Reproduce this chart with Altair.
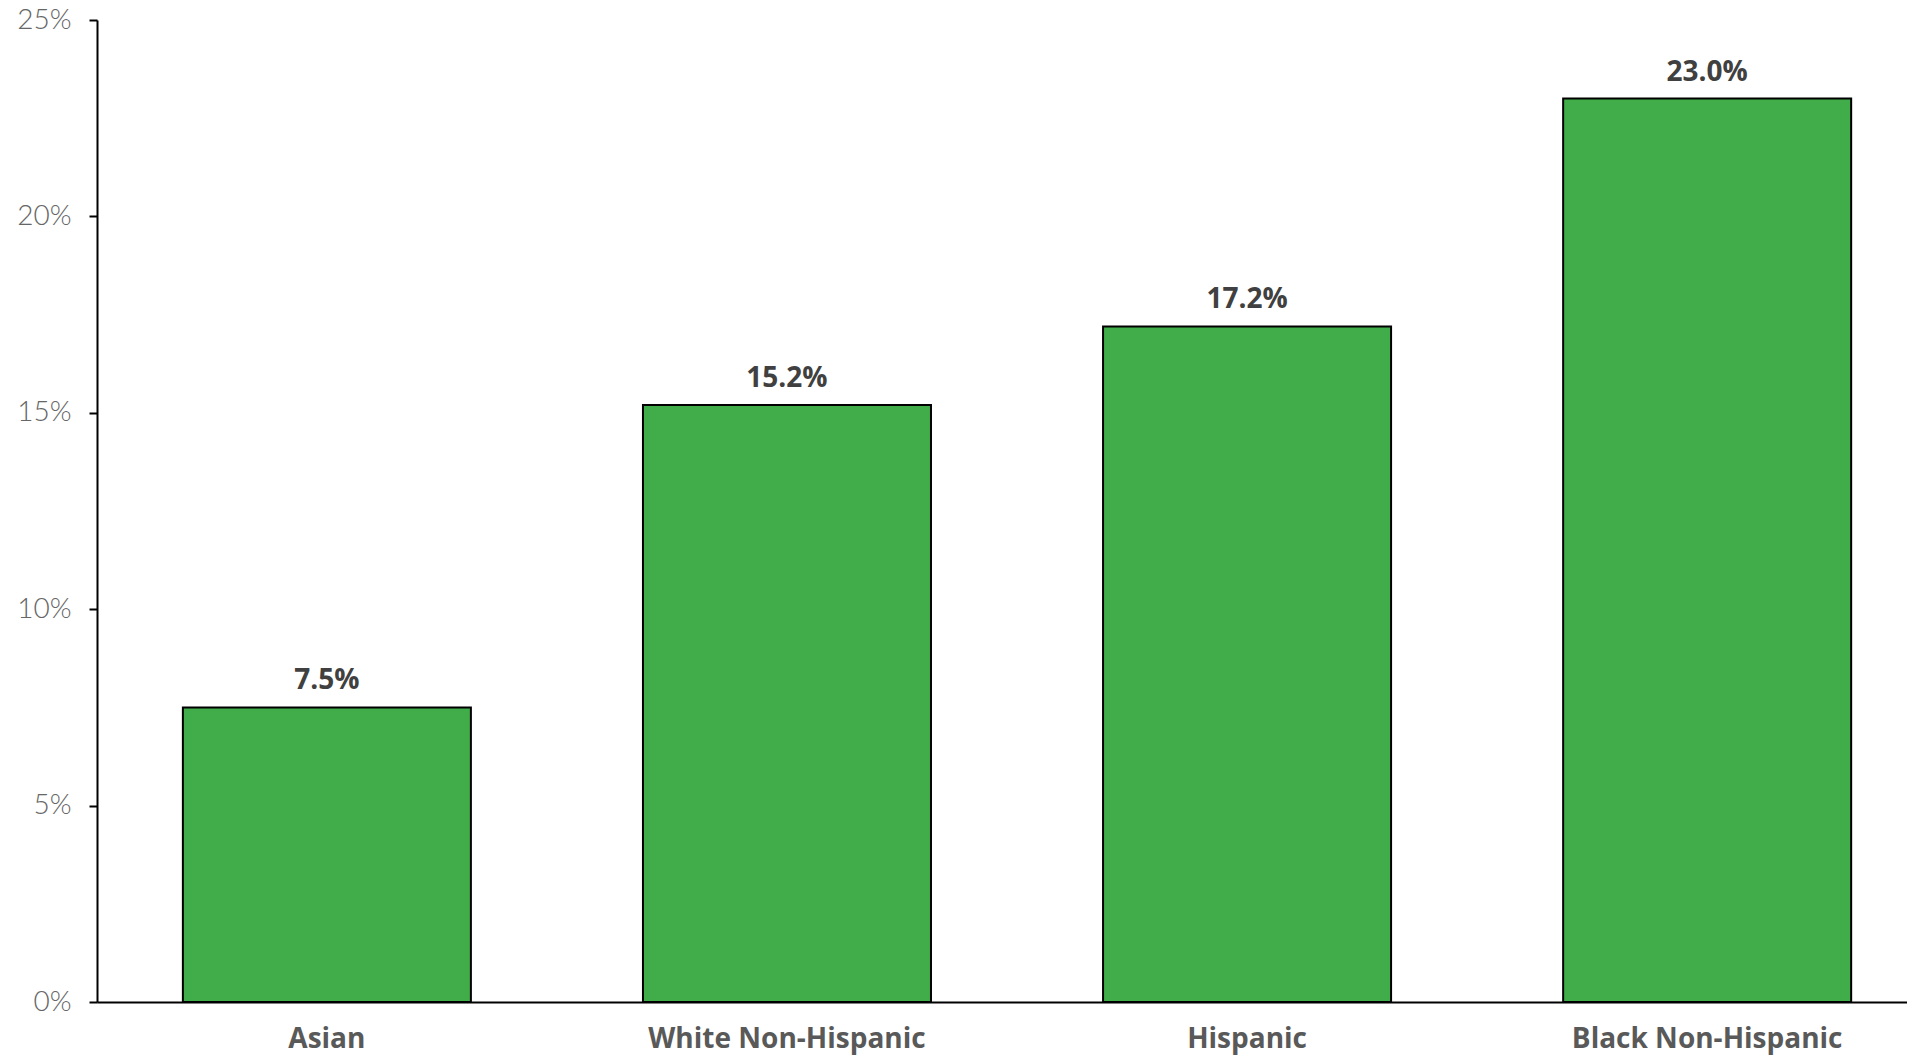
import altair as alt
import pandas as pd

categories = ["Asian", "White Non-Hispanic", "Hispanic", "Black Non-Hispanic"]
values = [7.5, 15.2, 17.2, 23.0]
labels = ["7.5%", "15.2%", "17.2%", "23.0%"]

df = pd.DataFrame({"group": categories, "value": values, "label": labels})

x = alt.X(
    "group:N",
    sort=categories,
    title=None,
    scale=alt.Scale(paddingInner=0.374, paddingOuter=0.154, align=0.606),
    axis=alt.Axis(
        labelAngle=0,
        ticks=False,
        grid=False,
        domainColor="#000000",
        domainWidth=2,
        labelFont="Open Sans",
        labelFontWeight="bold",
        labelFontSize=28,
        labelColor="#595959",
        labelPadding=23,
        labelLimit=600,
    ),
)
y = alt.Y(
    "value:Q",
    title=None,
    scale=alt.Scale(domain=[0, 25], nice=False),
    axis=alt.Axis(
        values=[0, 5, 10, 15, 20, 25],
        labelExpr="datum.value + '%'",
        grid=False,
        domainColor="#000000",
        domainWidth=2,
        tickColor="#000000",
        tickWidth=2,
        tickSize=8,
        labelFont="Lato",
        labelFontWeight=300,
        labelFontSize=28,
        labelColor="#666666",
        labelPadding=18,
    ),
)

base = alt.Chart(df).encode(x=x, y=y)
bars = base.mark_bar(color="#41ad4a", stroke="#000000", strokeWidth=2)
text = base.mark_text(
    dy=-18, baseline="alphabetic", font="Open Sans", fontWeight="bold", fontSize=28, color="#404040"
).encode(text="label:N")

chart = (
    alt.layer(bars, text)
    .properties(
        width=1810,
        height=982,
        background="#ffffff",
        autosize=alt.AutoSizeParams(type="none"),
        padding={"left": 89, "top": 12, "right": 0, "bottom": 53},
    )
    .configure_view(stroke="transparent", strokeWidth=0)
    .configure_axis(grid=False)
)

chart.save("out.html", embed_options={"renderer": "svg", "actions": False})
